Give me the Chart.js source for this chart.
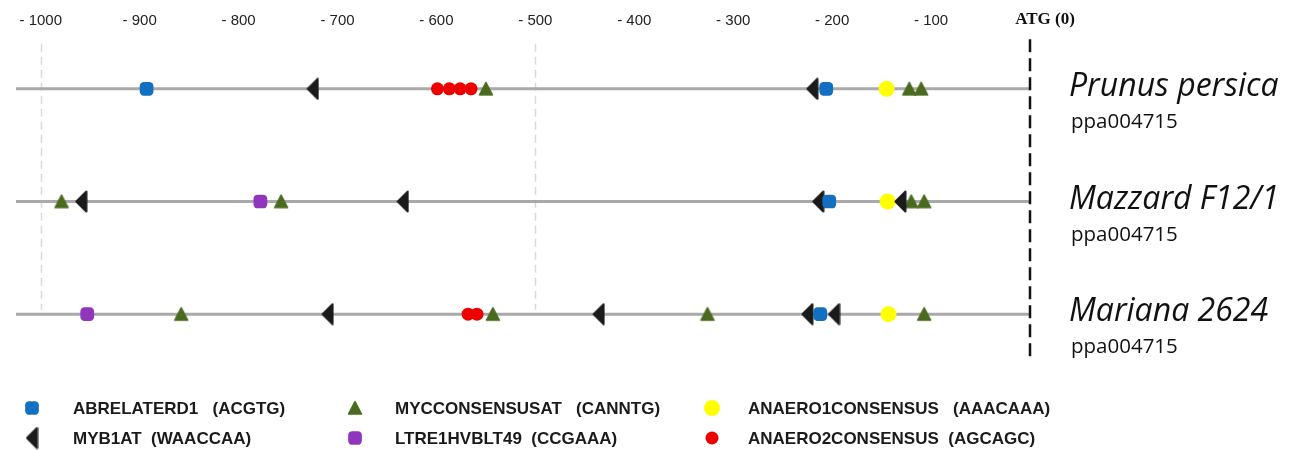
<!DOCTYPE html>
<html>
<head>
<meta charset="utf-8">
<script src="https://cdn.jsdelivr.net/npm/chart.js@4.4.1/dist/chart.umd.min.js"></script>
<style>
  html, body { margin: 0; padding: 0; background: #fff; }
  #wrap { width: 1306px; height: 450px; position: relative; }
</style>
</head>
<body>
<div id="wrap"><canvas id="promoterChart"></canvas></div>
<script>
// rows, top to bottom
var species = ['Prunus persica', 'Mazzard F12/1', 'Mariana 2624'];
var geneId = 'ppa004715';
var rowLevel = [3, 2, 1];

// motif positions (bp upstream of ATG), one list per row
var abrelaterd1    = [[-893, -206], [-203], [-212]];
var myb1at         = [[-725, -220], [-959, -634, -214, -131], [-710, -436, -225, -198]];
var mycconsensusat = [[-550, -122, -110], [-979, -757, -120, -107], [-858, -543, -326, -107]];
var ltre1hvblt49   = [[], [-778], [-953]];
var anaero1        = [[-145], [-144], [-143]];
var anaero2        = [[-599, -587, -576, -565], [], [-568, -559]];

var motifLabels = ['ABRELATERD1   (ACGTG)', 'MYB1AT  (WAACCAA)', 'MYCCONSENSUSAT   (CANNTG)',
                   'LTRE1HVBLT49  (CCGAAA)', 'ANAERO1CONSENSUS   (AAACAAA)', 'ANAERO2CONSENSUS  (AGCAGC)'];

// axis
var xMin = -1025, xMax = 0, tickStep = 100;
var gridMarks = [-1000, -500];
var atgLabel = 'ATG (0)';

// ---- marker shapes ----
function leftTriangle() {
    var c = document.createElement('canvas');
    c.width = 13; c.height = 23;
    var g = c.getContext('2d');
    g.fillStyle = g.strokeStyle = '#1b1b1b';
    g.lineJoin = 'round'; g.lineWidth = 2;
    g.beginPath(); g.moveTo(1.5, 11.5); g.lineTo(11.5, 1.5); g.lineTo(11.5, 21.5); g.closePath();
    g.fill(); g.stroke();
    return c;
}
function upTriangle() {
    var c = document.createElement('canvas');
    c.width = 16; c.height = 16;
    var g = c.getContext('2d');
    g.fillStyle = g.strokeStyle = '#4a6b1f';
    g.lineJoin = 'round'; g.lineWidth = 1.5;
    g.beginPath(); g.moveTo(8, 1.5); g.lineTo(14.5, 14); g.lineTo(1.5, 14); g.closePath();
    g.fill(); g.stroke();
    return c;
}

function toPoints(rowsData) {
    var pts = [];
    rowsData.forEach(function(list, i) {
        list.forEach(function(x) { pts.push({ x: x, y: rowLevel[i] }); });
    });
    return pts;
}

var motifStyles = [
    { data: abrelaterd1,    pointStyle: 'rectRounded', radius: 8,   color: '#126fc2' },
    { data: myb1at,         pointStyle: leftTriangle(), radius: 8,  color: '#1b1b1b' },
    { data: mycconsensusat, pointStyle: upTriangle(),   radius: 8,  color: '#4a6b1f' },
    { data: ltre1hvblt49,   pointStyle: 'rectRounded', radius: 8,   color: '#8f36bd' },
    { data: anaero1,        pointStyle: 'circle',      radius: 8,   color: '#ffff00' },
    { data: anaero2,        pointStyle: 'circle',      radius: 6.5, color: '#ee0000' }
];

var datasets = [];
motifStyles.forEach(function(m, i) {
    datasets.push({
        label: motifLabels[i],
        data: toPoints(m.data),
        pointStyle: m.pointStyle,
        pointRadius: m.radius,
        pointHoverRadius: m.radius,
        backgroundColor: m.color,
        borderColor: m.color,
        borderWidth: 0,
        order: i + 1
    });
});
// grey promoter lines, one per row
rowLevel.forEach(function(lv, i) {
    datasets.push({
        label: species[i],
        type: 'line',
        data: [{ x: xMin, y: lv }, { x: xMax, y: lv }],
        borderColor: '#a9a9a9',
        borderWidth: 3,
        pointRadius: 0,
        showLine: true,
        order: 20
    });
});

var decorPlugin = {
    id: 'promoterDecor',
    beforeDatasetsDraw: function(chart) {
        var ctx = chart.ctx, xs = chart.scales.x, ys = chart.scales.y;
        ctx.save();
        ctx.strokeStyle = '#d9d9d9';
        ctx.lineWidth = 1.5;
        ctx.setLineDash([8, 5]);
        gridMarks.forEach(function(v) {
            var px = Math.round(xs.getPixelForValue(v)) + 0.5;
            ctx.beginPath();
            ctx.moveTo(px, ys.getPixelForValue(3.4));
            ctx.lineTo(px, ys.getPixelForValue(1.04));
            ctx.stroke();
        });
        ctx.restore();
    },
    afterDatasetsDraw: function(chart) {
        var ctx = chart.ctx, xs = chart.scales.x, ys = chart.scales.y;
        var px = xs.getPixelForValue(0);
        ctx.save();
        ctx.strokeStyle = '#111';
        ctx.lineWidth = 2.5;
        ctx.setLineDash([13, 6]);
        ctx.beginPath();
        ctx.moveTo(px, ys.getPixelForValue(3.44));
        ctx.lineTo(px, ys.getPixelForValue(0.6));
        ctx.stroke();
        ctx.restore();
    },
    afterDraw: function(chart) {
        var ctx = chart.ctx, xs = chart.scales.x, ys = chart.scales.y;
        var x0 = xs.getPixelForValue(0);
        ctx.save();
        // ATG label
        ctx.fillStyle = '#111';
        ctx.font = 'bold 17px "Liberation Serif"';
        ctx.textAlign = 'center';
        ctx.textBaseline = 'middle';
        ctx.fillText(atgLabel, x0 + 15, 20);

        // species names
        ctx.textAlign = 'left';
        ctx.textBaseline = 'alphabetic';
        species.forEach(function(name, i) {
            var py = ys.getPixelForValue(rowLevel[i]);
            ctx.fillStyle = '#111';
            ctx.font = 'italic 32px "Open Sans"';
            ctx.fillText(name, x0 + 39, py + 7);
            ctx.font = '20.5px "Open Sans"';
            ctx.fillText(geneId, x0 + 41, py + 39);
        });

        // legend, 3 columns x 2 rows
        var colX = [32, 355, 712], rowY = [408, 438], textGap = [41, 40, 36];
        ctx.font = 'bold 17px "Liberation Sans"';
        ctx.textBaseline = 'middle';
        chart.data.datasets.forEach(function(ds, i) {
            if (ds.type === 'line') return;
            var col = Math.floor(i / 2), row = i % 2;
            var lx = colX[col], ly = rowY[row];
            ctx.fillStyle = ds.backgroundColor;
            ctx.strokeStyle = ds.borderColor;
            Chart.helpers.drawPoint(ctx, { pointStyle: ds.pointStyle, radius: ds.pointRadius, borderWidth: 0, rotation: 0 }, lx, ly);
            ctx.fillStyle = '#1a1a1a';
            ctx.fillText(ds.label, lx + textGap[col], ly + 1);
        });
        ctx.restore();
    }
};

new Chart(document.getElementById('promoterChart').getContext('2d'), {
    type: 'scatter',
    data: { datasets: datasets },
    options: {
        responsive: true,
        maintainAspectRatio: false,
        animation: false,
        layout: { padding: { left: 16, right: 276, top: 8, bottom: 90 } },
        plugins: { legend: { display: false }, tooltip: { enabled: false } },
        scales: {
            x: {
                type: 'linear',
                position: 'top',
                min: xMin, max: xMax,
                grid: { display: false, drawTicks: false },
                border: { display: false },
                ticks: {
                    stepSize: tickStep,
                    includeBounds: false,
                    padding: 4,
                    color: '#222',
                    font: { family: '"Liberation Sans"', size: 15 },
                    callback: function(v) { return v === 0 ? '' : '- ' + Math.abs(v); }
                }
            },
            y: { display: false, min: 0.593, max: 3.487 }
        }
    },
    plugins: [decorPlugin]
});
</script>
</body>
</html>
